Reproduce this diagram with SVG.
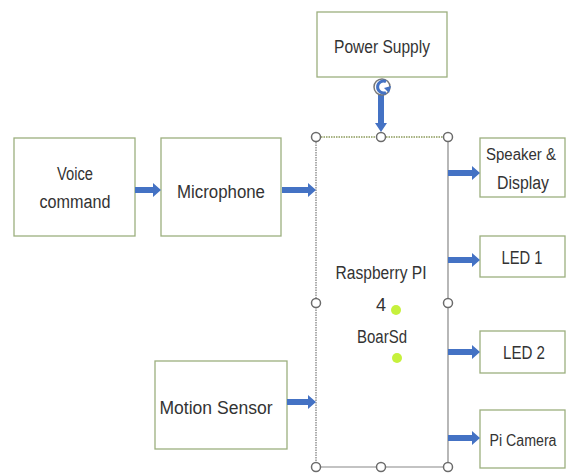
<svg xmlns="http://www.w3.org/2000/svg" width="567" height="473" viewBox="0 0 567 473">
<style>
.box{fill:#fff;stroke:#9caf7e;stroke-width:1.3}
.t{font-family:"Liberation Sans",Arial,sans-serif;font-size:18px;fill:#333;text-anchor:middle}
.s{font-size:16px}
.arr{fill:#4472c4}
.h{fill:#fff;stroke:#6b6b6b;stroke-width:1.5}
</style>
<rect width="567" height="473" fill="#fff"/>
<g id="power-supply"><rect class="box" x="317" y="12" width="130" height="65"/><text class="t" x="382" y="53" textLength="96" lengthAdjust="spacingAndGlyphs">Power Supply</text></g>
<g id="voice-command"><rect class="box" x="14" y="138" width="121" height="98"/><text class="t" x="75" y="180" textLength="36" lengthAdjust="spacingAndGlyphs">Voice</text><text class="t" x="75" y="208" textLength="71" lengthAdjust="spacingAndGlyphs">command</text></g>
<g id="microphone"><rect class="box" x="161" y="138" width="120" height="98"/><text class="t" x="221" y="198" textLength="88" lengthAdjust="spacingAndGlyphs">Microphone</text></g>
<g id="motion-sensor"><rect class="box" x="155" y="361" width="132" height="88"/><text class="t" x="216" y="414" textLength="113" lengthAdjust="spacingAndGlyphs">Motion Sensor</text></g>
<g id="speaker-display"><rect class="box" x="480" y="138" width="85" height="59"/><text class="t s" x="521" y="160" textLength="70" lengthAdjust="spacingAndGlyphs">Speaker &amp;</text><text class="t" x="523" y="189" textLength="52" lengthAdjust="spacingAndGlyphs">Display</text></g>
<g id="led1"><rect class="box" x="480" y="236" width="85" height="41"/><text class="t" x="522" y="264" textLength="41" lengthAdjust="spacingAndGlyphs">LED 1</text></g>
<g id="led2"><rect class="box" x="480" y="331" width="85" height="42"/><text class="t" x="524" y="359" textLength="42" lengthAdjust="spacingAndGlyphs">LED 2</text></g>
<g id="pi-camera"><rect class="box" x="480" y="410" width="85" height="58"/><text class="t s" x="523" y="446" textLength="67" lengthAdjust="spacingAndGlyphs">Pi Camera</text></g>
<g id="raspberry-pi">
<rect x="316" y="137" width="132" height="330" fill="#fff"/>
<line x1="316" y1="137" x2="448" y2="137" stroke="#8c9a5c" stroke-width="1.3" stroke-dasharray="1.5,1"/>
<line x1="316" y1="137" x2="316" y2="467" stroke="#777" stroke-width="1.2" stroke-dasharray="1.5,1"/>
<line x1="448" y1="137" x2="448" y2="467" stroke="#888" stroke-width="1.2"/>
<line x1="316" y1="467" x2="448" y2="467" stroke="#888" stroke-width="1.2"/>
<text class="t" x="381" y="279" textLength="91" lengthAdjust="spacingAndGlyphs">Raspberry PI</text>
<text class="t" x="381" y="311">4</text>
<text class="t" x="382" y="343" textLength="50" lengthAdjust="spacingAndGlyphs">BoarSd</text>
<circle cx="396" cy="310" r="5" fill="#c6f13c"/>
<circle cx="397" cy="358" r="5" fill="#c6f13c"/>
<circle class="h" cx="316" cy="137" r="4.5"/><circle class="h" cx="381" cy="137" r="4.5"/><circle class="h" cx="448" cy="137" r="4.5"/>
<circle class="h" cx="316" cy="303" r="4.5"/><circle class="h" cx="448" cy="303" r="4.5"/>
<circle class="h" cx="316" cy="467" r="4.5"/><circle class="h" cx="381" cy="467" r="4.5"/><circle class="h" cx="448" cy="467" r="4.5"/>
</g>
<g id="connectors">
<polygon class="arr" points="378,92 384,92 384,123 387,123 381,132 375,123 378,123"/>
<polygon class="arr" points="135,187 153,187 153,183 161,190 153,197 153,193 135,193"/>
<polygon class="arr" points="282,187 308,187 308,183 316,190 308,197 308,193 282,193"/>
<polygon class="arr" points="287,399 308,399 308,395 316,402 308,409 308,405 287,405"/>
<polygon class="arr" points="448,170 472,170 472,166 480,173 472,180 472,176 448,176"/>
<polygon class="arr" points="448,257 472,257 472,253 480,260 472,267 472,263 448,263"/>
<polygon class="arr" points="448,349 472,349 472,345 480,352 472,359 472,355 448,355"/>
<polygon class="arr" points="448,435 472,435 472,431 480,438 472,445 472,441 448,441"/>
<circle cx="382" cy="87" r="8" fill="#fff" stroke="#777" stroke-width="1.5"/>
<path d="M386,81.5 A6,6 0 1 0 386,92.5" fill="none" stroke="#4472c4" stroke-width="3"/>
<polygon points="384,88 391,86 389,93" fill="#4472c4"/>
</g>
</svg>
